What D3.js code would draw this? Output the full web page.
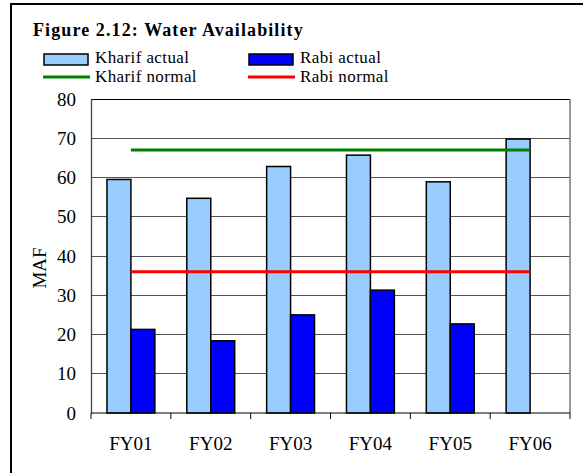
<!DOCTYPE html>
<html lang="en">
<head>
<meta charset="utf-8">
<title>Water Availability</title>
<script src="https://d3js.org/d3.v7.min.js"></script>
<style>
  body { margin: 0; background: #fff; }
  text { font-family: "Liberation Serif", "Times New Roman", serif; fill: #000; }
</style>
</head>
<body>
<svg id="chart" width="583" height="473"></svg>
<script>
// data
let years = ["FY01", "FY02", "FY03", "FY04", "FY05", "FY06"];
let kharifActual = [59.5, 54.7, 62.8, 65.7, 58.9, 69.8];
let rabiActual = [21.3, 18.4, 25.0, 31.3, 22.7, null];
let kharifNormal = 67;
let rabiNormal = 36;
let yTicks = [0, 10, 20, 30, 40, 50, 60, 70, 80];

let svg = d3.select("#chart");

// outer figure frame
svg.append("rect")
    .attr("x", 11).attr("y", 4)
    .attr("width", 600).attr("height", 500)
    .attr("fill", "none")
    .attr("stroke", "#000")
    .attr("stroke-width", 2);

let pLeft = 91, pTop = 99, pRight = 570, pBottom = 413;

let x0 = d3.scaleBand()
    .domain(years)
    .range([pLeft, pRight])
    .paddingInner(0.4)
    .paddingOuter(0.2);

let x1 = d3.scaleBand()
    .domain(["kharif", "rabi"])
    .range([0, x0.bandwidth()]);

let y = d3.scaleLinear()
    .domain([0, 80])
    .range([pBottom, pTop]);

// grid lines
svg.append("g")
    .selectAll("line")
    .data(yTicks.slice(1))
    .enter()
    .append("line")
    .attr("x1", pLeft).attr("x2", pRight)
    .attr("y1", d => y(d)).attr("y2", d => y(d))
    .attr("stroke", d => d == 80 ? "#000" : "#555")
    .attr("stroke-width", 1)
    .attr("shape-rendering", "crispEdges");

// right edge of plot area
svg.append("line")
    .attr("x1", pRight).attr("x2", pRight)
    .attr("y1", pTop).attr("y2", pBottom)
    .attr("stroke", "#777")
    .attr("stroke-width", 1.5);

// bars
let groups = svg.append("g")
    .selectAll("g")
    .data(years)
    .enter()
    .append("g")
    .attr("transform", d => "translate(" + x0(d) + ",0)");

groups.append("rect")
    .attr("x", x1("kharif"))
    .attr("y", (d, i) => y(kharifActual[i]))
    .attr("width", x1.bandwidth())
    .attr("height", (d, i) => pBottom - y(kharifActual[i]))
    .attr("fill", "#99ccff")
    .attr("stroke", "#000")
    .attr("stroke-width", 1.5);

groups.filter((d, i) => rabiActual[i] != null)
    .append("rect")
    .attr("x", x1("rabi"))
    .attr("y", d => y(rabiActual[years.indexOf(d)]))
    .attr("width", x1.bandwidth())
    .attr("height", d => pBottom - y(rabiActual[years.indexOf(d)]))
    .attr("fill", "#0000ff")
    .attr("stroke", "#000")
    .attr("stroke-width", 1.5);

// normal lines
let firstC = x0(years[0]) + x0.bandwidth() / 2;
let lastC = x0(years[years.length - 1]) + x0.bandwidth() / 2;

svg.append("line")
    .attr("x1", firstC).attr("x2", lastC)
    .attr("y1", y(kharifNormal)).attr("y2", y(kharifNormal))
    .attr("stroke", "#008000")
    .attr("stroke-width", 3);

svg.append("line")
    .attr("x1", firstC).attr("x2", lastC)
    .attr("y1", y(rabiNormal)).attr("y2", y(rabiNormal))
    .attr("stroke", "#ff0000")
    .attr("stroke-width", 3);

// y axis
let yAxis = svg.append("g")
    .attr("transform", "translate(" + pLeft + ",0)")
    .call(d3.axisLeft(y).tickValues(yTicks).tickSize(0).tickPadding(15));
yAxis.select(".domain").attr("stroke", "#444").attr("stroke-width", 1.3);
yAxis.selectAll("text")
    .style("font-family", "Liberation Serif, serif")
    .style("font-size", "19px");

// x axis with ticks between categories
let xAxis = svg.append("g")
    .attr("transform", "translate(0," + pBottom + ")");
xAxis.append("line")
    .attr("x1", pLeft).attr("x2", pRight)
    .attr("stroke", "#000").attr("stroke-width", 1.2);
let bounds = years.map(d => x0(d) - x0.step() * x0.paddingInner() / 2);
bounds.push(pRight);
bounds[0] = pLeft;
xAxis.selectAll(".tk")
    .data(bounds)
    .enter()
    .append("line")
    .attr("x1", d => d).attr("x2", d => d)
    .attr("y1", 0).attr("y2", 6)
    .attr("stroke", "#000");
xAxis.selectAll(".lbl")
    .data(years)
    .enter()
    .append("text")
    .attr("x", d => x0(d) + x0.bandwidth() / 2)
    .attr("y", 37)
    .attr("text-anchor", "middle")
    .style("font-size", "19px")
    .text(d => d);

// y axis title
svg.append("text")
    .attr("transform", "translate(46,268) rotate(-90)")
    .attr("text-anchor", "middle")
    .style("font-size", "19px")
    .text("MAF");

// title
svg.append("text")
    .attr("x", 33).attr("y", 36)
    .style("font-size", "18px")
    .style("font-weight", "bold")
    .style("letter-spacing", "1.1px")
    .text("Figure 2.12: Water Availability");

// legend
let legend = svg.append("g");
legend.append("rect")
    .attr("x", 44).attr("y", 54).attr("width", 44).attr("height", 11)
    .attr("fill", "#99ccff").attr("stroke", "#000").attr("stroke-width", 1.5);
legend.append("rect")
    .attr("x", 249).attr("y", 54).attr("width", 44).attr("height", 11)
    .attr("fill", "#0000ff").attr("stroke", "#000").attr("stroke-width", 1.5);
legend.append("line")
    .attr("x1", 43).attr("x2", 90).attr("y1", 77).attr("y2", 77)
    .attr("stroke", "#008000").attr("stroke-width", 3);
legend.append("line")
    .attr("x1", 248).attr("x2", 295).attr("y1", 77).attr("y2", 77)
    .attr("stroke", "#ff0000").attr("stroke-width", 3);

let legendText = [
    { t: "Kharif actual", x: 95, y: 62.5 },
    { t: "Rabi actual", x: 300, y: 62.5 },
    { t: "Kharif normal", x: 95, y: 81.5 },
    { t: "Rabi normal", x: 300, y: 81.5 }
];
legend.selectAll(".lt")
    .data(legendText)
    .enter()
    .append("text")
    .attr("x", d => d.x).attr("y", d => d.y)
    .style("font-size", "17px")
    .style("letter-spacing", "0.4px")
    .text(d => d.t);
</script>
</body>
</html>
